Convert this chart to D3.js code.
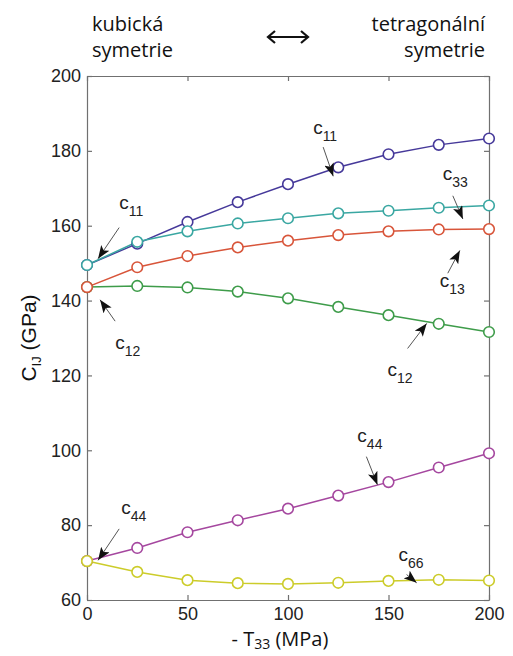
<!DOCTYPE html>
<html>
<head>
<meta charset="utf-8">
<script src="https://cdn.jsdelivr.net/npm/d3@7"></script>
<style>
  body { margin: 0; background: #fff; }
  svg { display: block; }
</style>
</head>
<body>
<div id="chart"></div>
<script>
// elastic constants vs. uniaxial stress

var width = 513;
var height = 656;
var margin = { top: 76, right: 24, bottom: 56, left: 87 };

// data
var stress = [0, 25, 50, 75, 100, 125, 150, 175, 200];
var c11 = [149.5, 155.2, 161.0, 166.3, 171.1, 175.6, 179.1, 181.6, 183.3];
var c33 = [149.5, 155.7, 158.5, 160.6, 162.0, 163.3, 164.0, 164.8, 165.4];
var c13 = [143.6, 148.9, 151.9, 154.2, 156.0, 157.5, 158.5, 159.0, 159.1];
var c12 = [143.6, 143.9, 143.5, 142.4, 140.6, 138.3, 136.1, 133.8, 131.6];
var c44 = [70.4, 73.9, 78.1, 81.3, 84.4, 87.9, 91.5, 95.4, 99.2];
var c66 = [70.4, 67.5, 65.3, 64.5, 64.3, 64.6, 65.1, 65.4, 65.2];

var xTicks = [0, 50, 100, 150, 200];
var yTicks = [60, 80, 100, 120, 140, 160, 180, 200];

var series = [
    { name: "c11", values: c11, color: "#46399a" },
    { name: "c44", values: c44, color: "#a5479f" },
    { name: "c66", values: c66, color: "#cccc2a" },
    { name: "c12", values: c12, color: "#3e9c4a" },
    { name: "c13", values: c13, color: "#d8553a" },
    { name: "c33", values: c33, color: "#3aa7a2" }
];

// annotations: label position and arrow (tail -> head), in data units
var notes = [
    { sub: "11", lx: 16, ly: 164.5, x1: 16, y1: 159.5, x2: 5.5, y2: 151.2 },
    { sub: "12", lx: 14, ly: 127, x1: 14, y1: 134.5, x2: 6.5, y2: 140.2 },
    { sub: "11", lx: 112.5, ly: 184.5, x1: 117.5, y1: 181, x2: 122.5, y2: 173.2 },
    { sub: "33", lx: 177, ly: 172.2, x1: 182, y1: 168, x2: 187, y2: 161.8 },
    { sub: "13", lx: 175.5, ly: 143.5, x1: 179.5, y1: 147.3, x2: 185.5, y2: 153.4 },
    { sub: "12", lx: 149.5, ly: 119.8, x1: 159.5, y1: 127.2, x2: 169, y2: 133.9 },
    { sub: "44", lx: 134.5, ly: 102.3, x1: 139, y1: 98.3, x2: 144.5, y2: 90.8 },
    { sub: "44", lx: 17, ly: 83, x1: 16, y1: 79, x2: 5.5, y2: 70.6 },
    { sub: "66", lx: 155, ly: 70.5, x1: 159, y1: 66.8, x2: 164, y2: 64.6 }
];

var svg = d3.select("#chart")
    .append("svg")
    .attr("width", width)
    .attr("height", height);

var x = d3.scaleLinear().domain([0, 200]).range([0, 402]);
var y = d3.scaleLinear().domain([60, 200]).range([524, 0]);

var g = svg.append("g")
    .attr("transform", "translate(" + margin.left + "," + margin.top + ")");

var axisColor = "#707070";
var tickFont = "'Liberation Sans', Arial, sans-serif";

// axes with inward ticks on all four sides
var axB = g.append("g")
    .attr("transform", "translate(0," + y(60) + ")")
    .call(d3.axisBottom(x).tickValues(xTicks).tickSizeInner(-5).tickSizeOuter(0).tickPadding(7));
var axT = g.append("g")
    .call(d3.axisTop(x).tickValues(xTicks).tickSizeInner(-5).tickSizeOuter(0).tickFormat(""));
var axL = g.append("g")
    .call(d3.axisLeft(y).tickValues(yTicks).tickSizeInner(-5).tickSizeOuter(0).tickPadding(6));
var axR = g.append("g")
    .attr("transform", "translate(" + x(200) + ",0)")
    .call(d3.axisRight(y).tickValues(yTicks).tickSizeInner(-5).tickSizeOuter(0).tickFormat(""));

[axB, axT, axL, axR].forEach(function(a) {
    a.selectAll("path, line").attr("stroke", axisColor).attr("stroke-width", 1.2);
    a.selectAll("text")
        .attr("fill", "#222")
        .style("font-family", tickFont)
        .style("font-size", "18px");
});

// lines and markers
var line = d3.line()
    .x(function(d, i) { return x(stress[i]); })
    .y(function(d) { return y(d); });

series.forEach(function(s) {
    g.append("path")
        .datum(s.values)
        .attr("fill", "none")
        .attr("stroke", s.color)
        .attr("stroke-width", 1.5)
        .attr("d", line);
});

series.forEach(function(s) {
    g.selectAll(".dot-" + s.name)
        .data(s.values)
        .enter()
        .append("circle")
        .attr("class", "dot-" + s.name)
        .attr("cx", function(d, i) { return x(stress[i]); })
        .attr("cy", function(d) { return y(d); })
        .attr("r", 5.3)
        .attr("fill", "#fff")
        .attr("stroke", s.color)
        .attr("stroke-width", 1.6);
});

// arrowhead
svg.append("defs").append("marker")
    .attr("id", "head")
    .attr("viewBox", "0 0 13 10")
    .attr("refX", 13)
    .attr("refY", 5)
    .attr("markerWidth", 13)
    .attr("markerHeight", 10)
    .attr("markerUnits", "userSpaceOnUse")
    .attr("orient", "auto")
    .append("path")
    .attr("d", "M0,0 L13,5 L0,10 L3,5 Z")
    .attr("fill", "#111");

notes.forEach(function(n) {
    g.append("line")
        .attr("x1", x(n.x1)).attr("y1", y(n.y1))
        .attr("x2", x(n.x2)).attr("y2", y(n.y2))
        .attr("stroke", "#555")
        .attr("stroke-width", 1)
        .attr("marker-end", "url(#head)");
    var t = g.append("text")
        .attr("x", x(n.lx))
        .attr("y", y(n.ly))
        .style("font-family", tickFont)
        .style("font-size", "19px")
        .attr("fill", "#222");
    t.append("tspan").text("c");
    t.append("tspan")
        .attr("dy", 7)
        .style("font-size", "14px")
        .text(n.sub);
});

// axis titles
var ylab = svg.append("text")
    .attr("transform", "translate(36," + (margin.top + y(130)) + ") rotate(-90)")
    .attr("text-anchor", "middle")
    .style("font-family", tickFont)
    .style("font-size", "21px")
    .attr("fill", "#111");
ylab.append("tspan").text("C");
ylab.append("tspan").attr("dy", 5).style("font-size", "13px").text("IJ");
ylab.append("tspan").attr("dy", -5).text(" (GPa)");

var calibri = "'Open Sans', sans-serif";
var xlab = svg.append("text")
    .attr("x", margin.left + x(96))
    .attr("y", 646)
    .attr("text-anchor", "middle")
    .style("font-family", calibri)
    .style("font-size", "20px")
    .attr("fill", "#111");
xlab.append("tspan").text("- T");
xlab.append("tspan").attr("dy", 3).style("font-size", "14px").text("33");
xlab.append("tspan").attr("dy", -3).text(" (MPa)");

// header
var head = svg.append("g")
    .style("font-family", calibri)
    .style("font-size", "20px")
    .attr("fill", "#111");
head.append("text").attr("x", 92).attr("y", 31).text("kubická");
head.append("text").attr("x", 92).attr("y", 57).text("symetrie");
head.append("text").attr("x", 485).attr("y", 31).attr("text-anchor", "end").text("tetragonální");
head.append("text").attr("x", 485).attr("y", 57).attr("text-anchor", "end").text("symetrie");

// double arrow between the two headings
var ax = margin.left + x(100), ay = 37;
head.append("path")
    .attr("d", "M" + (ax - 19) + "," + ay + "H" + (ax + 19))
    .attr("stroke", "#111").attr("stroke-width", 2).attr("fill", "none");
head.append("path")
    .attr("d", "M" + (ax - 13) + "," + (ay - 6) + "L" + (ax - 20) + "," + ay + "L" + (ax - 13) + "," + (ay + 6)
        + "M" + (ax + 13) + "," + (ay - 6) + "L" + (ax + 20) + "," + ay + "L" + (ax + 13) + "," + (ay + 6))
    .attr("stroke", "#111").attr("stroke-width", 2.2).attr("fill", "none")
    .attr("stroke-linejoin", "miter");
</script>
</body>
</html>
